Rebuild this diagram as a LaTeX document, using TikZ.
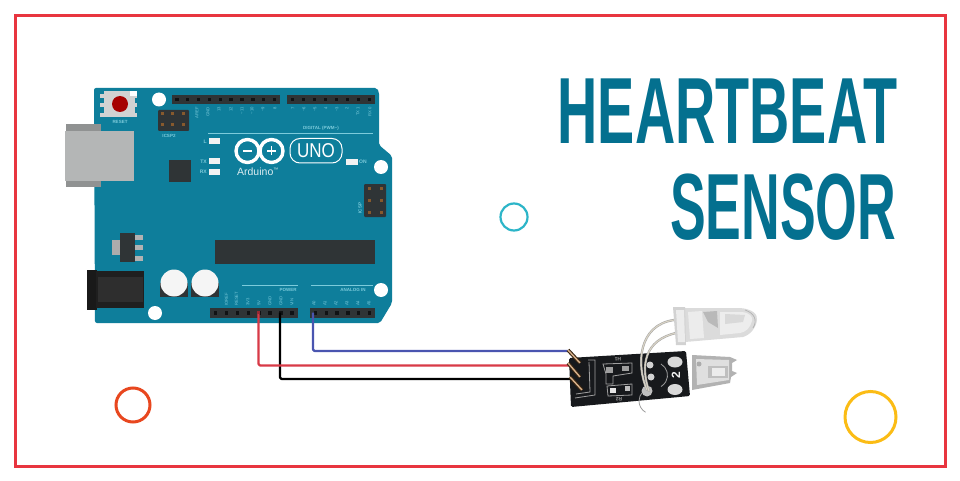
\documentclass[tikz,border=0pt]{standalone}
\usepackage{fontspec}
\setmainfont{Liberation Sans}
\definecolor{frame}{HTML}{E8353F}
\definecolor{titlec}{HTML}{04708F}
\definecolor{board}{HTML}{0E7E9B}
\definecolor{boardlight}{HTML}{7CCBDB}
\definecolor{hdr}{HTML}{2F3436}
\definecolor{pinhole}{HTML}{101214}
\definecolor{wred}{HTML}{D83A47}
\definecolor{wblue}{HTML}{4A55B0}
\definecolor{usb}{HTML}{B4B6B6}
\definecolor{pcb}{HTML}{17191C}
\definecolor{ringa}{HTML}{2CB5C8}
\definecolor{ringb}{HTML}{E8471F}
\definecolor{ringc}{HTML}{FBBC15}
\definecolor{leg}{HTML}{D9D3C4}
\tikzset{
  ring/.style={draw,circle,fill=none,inner sep=0pt},
  wire/.style={line width=2.2pt,line join=round,rounded corners=1.5pt},
  hole/.style={fill=white,circle,inner sep=0pt,minimum size=#1},
  silk/.style={text=boardlight,font=\fontsize{#1}{#1}\selectfont\bfseries,inner sep=0pt},
  pinlab/.style={text=boardlight,font=\fontsize{4.2}{4.2}\selectfont,inner sep=0pt,rotate=90},
  title/.style={text=titlec,inner sep=0pt,anchor=east,font=\fontsize{94}{94}\selectfont\bfseries},
  pcbsilk/.style={draw=gray!75,line width=.8pt},
  pcblab/.style={text=gray!80,font=\fontsize{5}{5}\selectfont\bfseries,inner sep=0pt},
}
\newcommand{\hdrstrip}[5]{% x0,x1,y0,y1,n
  \fill[hdr] (#1,#3) rectangle (#2,#4);
  \pgfmathsetmacro{\stp}{(#2-#1)/#5}
  \pgfmathsetmacro{\ymid}{(#3+#4)/2}
  \foreach \i in {1,...,#5}{
    \pgfmathsetmacro{\xc}{#1+(\i-.5)*\stp}
    \fill[pinhole] (\xc-1.7,\ymid-1.7) rectangle (\xc+1.7,\ymid+1.7);
  }
}
\begin{document}
\begin{tikzpicture}[x=1pt,y=-1pt]
\useasboundingbox (0,0) rectangle (960,481);
\fill[white] (0,0) rectangle (960,481);
\draw[frame,line width=3pt] (15.5,16) rectangle (945,466);

% title
\node[title] (t1) at (897.5,111) {\scalebox{.593}[1]{HEARTBEAT}};
\node[title] (t2) at (896.5,207) {\scalebox{.57}[1]{SENSOR}};

% rings
\node[ring,draw=ringa,line width=2.2pt,minimum size=27pt] (r1) at (514,217) {};
\node[ring,draw=ringb,line width=3pt,minimum size=34pt] (r2) at (133,405) {};
\node[ring,draw=ringc,line width=3pt,minimum size=51pt] (r3) at (870.5,417) {};

% board
\fill[board,rounded corners=2pt] (94,88) -- (377,88) -- (379,92) -- (379,145) -- (392,156) -- (392,303) -- (380,323) -- (95,323) -- cycle;
\node[hole=14pt] (h1) at (159,99.5) {};
\node[hole=14pt] (h2) at (381,167) {};
\node[hole=14pt] (h3) at (381,290) {};
\node[hole=14pt] (h4) at (155,313) {};

% usb
\fill[usb!80!black] (66,124) rectangle (101,187);
\fill[usb] (65,131) rectangle (134,181);
% reset
\foreach \y in {94,103,113}{\fill[gray!35] (100,\y) rectangle (137,\y+4);}
\fill[gray!35] (104,91) rectangle (135,117);
\fill[white] (130,91) rectangle (137,96);
\node[circle,fill=red!65!black,inner sep=0pt,minimum size=16pt] (rst) at (120,104) {};
\node[silk=4.5] (lrst) at (120,122) {RESET};
% ICSP2
\fill[hdr,rounded corners=1pt] (158,110) rectangle (189,131);
\foreach \x in {162,172,183}{\foreach \y in {113.5,124.5}{\fill[brown!70!black] (\x-1.5,\y-1.5) rectangle (\x+1.5,\y+1.5);}}
\node[silk=4.5] (li2) at (169,136) {ICSP2};
% headers
\hdrstrip{171.5}{280}{95}{104.5}{10}
\hdrstrip{287}{375}{95}{104.5}{8}
\hdrstrip{210}{297.5}{308}{318}{8}
\hdrstrip{310}{375}{308}{318}{6}
% pin labels
\foreach \x/\t in {197/AREF,208/GND,219/13,231/12,242/\textasciitilde11,252/\textasciitilde10,263/\textasciitilde9,275/8,293/7,304/\textasciitilde6,315/\textasciitilde5,326/4,337/\textasciitilde3,347/2,358/TX\,1,370/RX\,0}{
  \node[pinlab,anchor=east] at (\x,107) {\t};
}
\foreach \x/\t in {226.5/IOREF,236.5/RESET,248/3V3,259/5V,270/GND,281/GND,292/VIN,314/A0,325/A1,336/A2,347/A3,358/A4,369/A5}{
  \node[pinlab,anchor=west] at (\x,306) {\t};
}
\node[silk=4.5] (ldig) at (321,128.5) {DIGITAL (PWM\textasciitilde)};
\draw[boardlight,line width=1pt] (208,133.5) -- (373,133.5);
\draw[boardlight,line width=.8pt] (242,285) -- (298,285);
\draw[boardlight,line width=.8pt] (311,285) -- (373,285);
\node[silk=4.5] (lpow) at (288,290) {POWER};
\node[silk=4.5] (lana) at (353,290) {ANALOG IN};
% LEDs
\foreach \y/\t in {141.5/L,161.5/TX,172/RX}{\fill[white!90!gray] (209,\y-3) rectangle (220,\y+3);\node[silk=5,anchor=east] at (207,\y) {\t};}
\fill[white!90!gray] (346,159) rectangle (358,165);
\node[silk=5,anchor=west] (lon) at (359,162) {ON};
% logo
\draw[white,line width=3.4pt] (247.5,151) circle (11.5);
\draw[white,line width=3.4pt] (271.5,151) circle (11.5);
\draw[white,line width=1.8pt] (243,151) -- (252,151);
\draw[white,line width=1.8pt] (267,151) -- (276,151) (271.5,146.5) -- (271.5,155.5);
\draw[white,line width=1pt,rounded corners=10pt] (290,138.5) rectangle (342,163);
\node[text=white,inner sep=0pt,font=\fontsize{20}{20}\selectfont] (uno) at (316,151) {\scalebox{.85}[1]{UNO}};
\node[text=white!85!board,inner sep=0pt,font=\fontsize{10.5}{10.5}\selectfont] (ard) at (258,171.5) {Arduino\textsuperscript{\tiny\texttrademark}};
% chip
\fill[hdr] (169,160) rectangle (191,182);
% ICSP
\fill[hdr,rounded corners=1pt] (364,184) rectangle (386,217);
\foreach \x in {369,381}{\foreach \y in {188,200,212}{\fill[brown!70!black] (\x-1.5,\y-1.5) rectangle (\x+1.5,\y+1.5);}}
\node[silk=4.5,rotate=90] (lic) at (360,208) {ICSP};
% regulator
\fill[gray!65] (112,240) rectangle (121,255);
\fill[gray!60] (135,235) rectangle (143,240);\fill[gray!60] (135,245) rectangle (143,250);\fill[gray!60] (135,256) rectangle (143,261);
\fill[hdr] (120,233) rectangle (135,262);
% big chip
\fill[hdr] (215,240) rectangle (375,263.5);
% power jack
\fill[black!90] (87,270) rectangle (97,310);
\fill[black!88] (96,271) rectangle (144,308);
\fill[black!82] (98,277) rectangle (143,302);
% caps
\fill[hdr] (160,283) rectangle (188,297);
\fill[hdr] (191,283) rectangle (219,297);
\node[circle,fill=white!92!gray,inner sep=0pt,minimum size=27pt] (ca) at (174,283) {};
\node[circle,fill=white!92!gray,inner sep=0pt,minimum size=27pt] (cb) at (205,283) {};
% wires
\coordinate (pa) at (313,312.5);
\coordinate (pb) at (258.5,312.5);
\coordinate (pc) at (280,312.5);
\coordinate (sa) at (568,351);
\coordinate (sb) at (570,365.5);
\coordinate (sc) at (571,379);
\draw[wire,wblue] (pa) |- (sa);
\draw[wire,black] (pc) |- (sc);
\draw[wire,wred] (pb) |- (sb);
\fill[wred!70!black] (256.7,311) rectangle (260.3,314);

% phototransistor
\fill[gray!60] (692,355) -- (730,357) -- (737,360) -- (732,363) -- (732,371) -- (737,373) -- (731,377) -- (730,383) -- (692,390) -- cycle;
\fill[gray!25] (696,359) -- (729,360) -- (729,380) -- (697,385) -- cycle;
\fill[gray!50] (708,366) rectangle (728,378);
\fill[gray!15] (712,368) rectangle (725,376);
\fill[gray!65] (699,364) circle (2.5);
% pcb
\fill[pcb,rounded corners=1.5pt] (569,358) -- (686,351) -- (690,396) -- (571,407) -- cycle;
% pcb header bracket
\draw[pcbsilk] (588,360) -- (595,360) -- (595,395) -- (575,398);
\draw[pcbsilk] (589,362) -- (590,392) -- (576,394);
% header pins
\foreach \a/\b/\c/\d in {568/350/580/363,568/363/580/377,570/377/582/390}{
  \draw[black!70!brown,line width=3.6pt] (\a,\b) -- (\c,\d);
  \draw[brown!60!white,line width=1.4pt] (\a,\b) -- (\c,\d);
}
% pcb silk
\draw[pcbsilk] (603,364) -- (632,363) -- (632,373) -- (613,376) -- (613,384) -- (606,384) -- (606,374) -- cycle;
\fill[gray!75] (606,367) rectangle (613,373);
\fill[gray!75] (622,366) rectangle (629,371);
\draw[pcbsilk] (607,386) -- (632,384) -- (632,395) -- (608,396) -- cycle;
\fill[gray!20] (610,388) rectangle (616,393);
\fill[gray!50] (625,386) rectangle (630,391);
\node[pcblab,rotate=180] (lr1) at (618,359.5) {H1};
\node[pcblab,rotate=180] (lr2) at (619,399.5) {R2};
\draw[gray!75,line width=.8pt] (652,388) arc (90:-60:-13);
\draw[gray!75,line width=.8pt] (661,364) arc (-60:60:13);
\node[text=gray!10,rotate=90,font=\fontsize{12}{12}\selectfont\bfseries,inner sep=0pt] (ltwo) at (676,375) {2};
\fill[gray!30] (675,362) ellipse (7.5 and 5.5);
\fill[gray!30] (675,389.5) ellipse (7.5 and 5.5);
\fill[gray!35] (650,365) circle (3.5);
\fill[gray!35] (651,377) circle (3.5);
\fill[gray!50] (647,391) circle (5.5);
% LED legs
\draw[gray!70,line width=2.2pt,line cap=round] (647,390) .. controls (636,365) and (638,325) .. (674,320);
\draw[leg,line width=1.1pt,line cap=round] (647,390) .. controls (636,365) and (638,325) .. (674,320);
\draw[gray!70,line width=2.2pt,line cap=round] (649,391) .. controls (640,365) and (645,340) .. (676,333);
\draw[leg,line width=1.1pt,line cap=round] (649,391) .. controls (640,365) and (645,340) .. (676,333);
% LED bulb
\fill[gray!28] (685,308) -- (740,308) .. controls (752,309) and (758,314) .. (757,320) .. controls (756,328) and (750,335) .. (743,337) -- (685,342) -- cycle;
\fill[gray!35] (673,307) -- (685,307) -- (686,345) -- (676,345) -- cycle;
\fill[gray!15] (676,310) -- (684,310) -- (685,342) -- (678,342) -- cycle;
\fill[gray!15] (688,312) -- (702,311) -- (704,338) -- (690,339) -- cycle;
\fill[gray!55] (703,312) -- (717,311) -- (718,328) -- (708,322) -- cycle;
\fill[gray!14] (720,312) -- (742,312) .. controls (750,313) and (753,317) .. (752,321) .. controls (750,328) and (746,332) .. (740,333) -- (720,335) -- cycle;
\fill[gray!30] (725,314) -- (745,315) -- (743,322) -- (725,324) -- cycle;
\draw[gray!60,line width=.7pt] (745,310) .. controls (754,313) and (758,320) .. (753,328);
\end{tikzpicture}
\end{document}
